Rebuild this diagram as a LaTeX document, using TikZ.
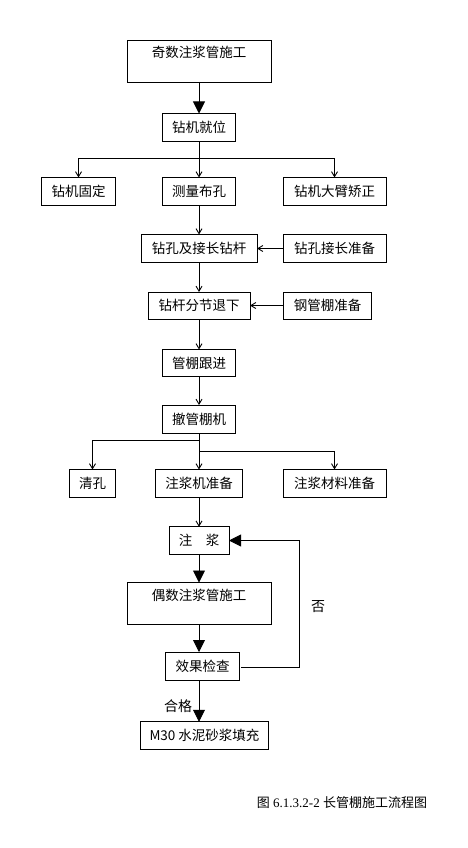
\documentclass[tikz,border=0pt]{standalone}
\usepackage{fontspec}
\setmainfont{Liberation Serif}
\newfontfamily\cjk{Noto Sans CJK SC}
\usetikzlibrary{positioning, arrows.meta}

\begin{document}
\begin{tikzpicture}[x=1pt, y=-1pt,
  box/.style={
    draw=black, fill=white, line width=0.9pt, outer sep=0pt,
    minimum height=28pt, inner sep=0pt,
    align=center, font=\cjk\fontsize{13.5}{15}\selectfont, text=black
  },
  bigbox/.style={
    box, minimum width=144pt, minimum height=42pt,
    text height=13pt, text depth=19pt, inner ysep=5pt
  },
  arr/.style={-{Straight Barb[length=5pt, width=6pt]}, line width=0.9pt},
  bigarr/.style={-{Triangle[length=12pt, width=12pt]}, line width=0.9pt},
  lbl/.style={font=\cjk\fontsize{14}{16}\selectfont, text=black},
]
\useasboundingbox (0,0) rectangle (468,848);

% ===== Upper part: drilling =====
\node[bigbox] (s1) at (199,61) {奇数注浆管施工};
\node[box, minimum width=73pt] (s2) at (199,127.5) {钻机就位};

\node[box, minimum width=74pt] (s3) at (78.5,191.5) {钻机固定};
\node[box, minimum width=73pt] (s4) at (199,191.5) {测量布孔};
\node[box, minimum width=103pt] (s5) at (334.5,191.5) {钻机大臂矫正};

\node[box, minimum width=116pt] (s6) at (199,248.5) {钻孔及接长钻杆};
\node[box, minimum width=103pt] (s7) at (334.5,248.5) {钻孔接长准备};

\node[box, minimum width=102pt, minimum height=27pt] (s8) at (199,305.5) {钻杆分节退下};
\node[box, minimum width=88pt, minimum height=27pt] (s9) at (327.5,305.5) {钢管棚准备};

\node[box, minimum width=73pt, minimum height=27pt] (s10) at (199,363) {管棚跟进};
\node[box, minimum width=73pt] (s11) at (199,419) {撤管棚机};

% ===== Lower part: grouting =====
\node[box, minimum width=46pt] (s12) at (92.5,483.5) {清孔};
\node[box, minimum width=87pt] (s13) at (199,483.5) {注浆机准备};
\node[box, minimum width=103pt] (s14) at (334.5,483.5) {注浆材料准备};

\node[box, minimum width=60pt, minimum height=27.5pt] (s15) at (199,540.5) {注\hspace{1em}浆};
\node[bigbox, minimum height=41pt] (s16) at (199,603.5) {偶数注浆管施工};
\node[box, minimum width=73.5pt] (s17) at (202.5,666) {效果检查};
\node[box, minimum width=127.5pt, minimum height=27.5pt] (s18) at (204.5,735.5) {M30 水泥砂浆填充};

\coordinate (b1) at (199,158.5);
\coordinate (b2) at (199,440);
\coordinate (b3) at (199,451);
\coordinate (fb) at (299.5,667);

% ===== Arrows =====
\draw[bigarr] (s1) -- (s2);
\draw[line width=0.9pt] (s2) -- (b1);
\draw[arr] (b1) -| (s3);
\draw[arr] (b1) -| (s5);
\draw[arr] (b1) -- (s4);
\draw[arr] (s4) -- (s6);
\draw[arr] (s7) -- (s6);
\draw[arr] (s6) -- (s8);
\draw[arr] (s9) -- (s8);
\draw[arr] (s8) -- (s10);
\draw[arr] (s10) -- (s11);

\draw[arr] (s11.south) -- (b2) -| (s12);
\draw[arr] (b2) -- (b3) -| (s14);
\draw[arr] (b3) -- (s13);
\draw[arr] (s13) -- (s15);

\draw[bigarr] (s15) -- (s16);
\draw[bigarr] (s16.south -| s15) -- (s17.north -| s15);
\draw[bigarr] (s17.south -| s15) -- (s18.north -| s15);
\draw[bigarr] ([xshift=2pt]s17.east |- fb) -- (fb) |- (s15.east);

% ===== Labels =====
\node[lbl] (no) at (318,607) {否};
\node[lbl] (ok) at (178,706) {合格};
\node[font=\fontsize{13}{15}\selectfont] (cap) at (342,803) {{\cjk 图} 6.1.3.2-2 {\cjk 长管棚施工流程图}};

\end{tikzpicture}
\end{document}
